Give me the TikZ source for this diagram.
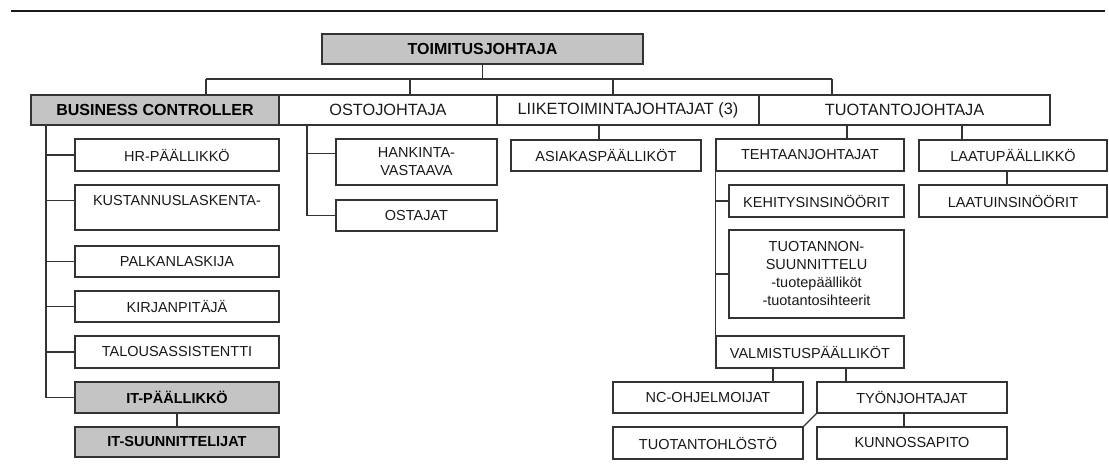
\documentclass[tikz,border=0pt]{standalone}
\usepackage{fontspec}
\setmainfont{Liberation Sans}
% \orgbox{name}{x1}{y1}{x2}{y2}{style}{text}: box given by its corners
\newcommand\orgbox[7]{%
  \node[box,#6,minimum width={#4pt-#2pt},minimum height={#5pt-#3pt}]
    (#1) at ({(#2+#4)/2},{(#3+#5)/2}) {#7};}
\begin{document}
\begin{tikzpicture}[x=1pt,y=-1pt,
  box/.style={draw=black!80,line width=1.1pt,inner sep=0pt,align=center,
    text=black!90,font=\fontsize{14.5}{18}\selectfont},
  head/.style={fill=black!23,text=black,font=\bfseries\fontsize{16}{19}\selectfont},
  itbox/.style={fill=black!23,text=black,font=\bfseries\fontsize{14.5}{18}\selectfont},
  big/.style={font=\fontsize{16.3}{19}\selectfont},
  wire/.style={draw=black!80,line width=1.1pt}]
\useasboundingbox (0,0) rectangle (1109,464);

% rule across the top
\draw[line width=1.3pt,black!90] (11,11) -- (1105,11);

% top levels
\orgbox{toim}{322}{34}{643}{64}{head}{TOIMITUSJOHTAJA}
\orgbox{bc}{31}{95}{279}{125}{head}{BUSINESS CONTROLLER}
\orgbox{osto}{279}{95}{497}{125}{big}{OSTOJOHTAJA}
\orgbox{liike}{497}{95}{759}{125}{big}{LIIKETOIMINTAJOHTAJAT (3)}
\orgbox{tuot}{759}{95}{1050}{125}{big}{TUOTANTOJOHTAJA}

% business controller
\orgbox{hr}{75}{139}{279}{171}{}{HR-PÄÄLLIKKÖ}
\orgbox{kust}{75}{185}{279}{230}{}{KUSTANNUSLASKENTA-\\[-3pt]\mbox{}}
\orgbox{palk}{75}{246}{279}{277}{}{PALKANLASKIJA}
\orgbox{kirj}{75}{291}{279}{322}{}{KIRJANPITÄJÄ}
\orgbox{talous}{75}{336}{279}{368}{}{TALOUSASSISTENTTI}
\orgbox{itp}{75}{382}{279}{413}{itbox}{IT-PÄÄLLIKKÖ}
\orgbox{its}{75}{427}{279}{457}{itbox}{IT-SUUNNITTELIJAT}

% purchasing
\orgbox{hank}{336}{139}{497}{185}{}{HANKINTA-\\VASTAAVA}
\orgbox{ostajat}{336}{200}{497}{231}{}{OSTAJAT}

% business units
\orgbox{asiak}{511}{140}{701}{171}{}{ASIAKASPÄÄLLIKÖT}

% production
\orgbox{teht}{716}{139}{904}{171}{}{TEHTAANJOHTAJAT}
\orgbox{laatup}{919}{140}{1107}{171}{}{LAATUPÄÄLLIKKÖ}
\orgbox{kehit}{729}{185}{904}{217}{}{KEHITYSINSINÖÖRIT}
\orgbox{laatui}{919}{185}{1107}{217}{}{LAATUINSINÖÖRIT}
\orgbox{tsuun}{729}{230}{904}{318}{}{TUOTANNON-\\SUUNNITTELU\\-tuotepäälliköt\\-tuotantosihteerit}
\orgbox{valm}{716}{336}{904}{368}{}{VALMISTUSPÄÄLLIKÖT}
\orgbox{nc}{613}{382}{803}{413}{}{NC-OHJELMOIJAT}
\orgbox{tyon}{817}{382}{1007}{413}{}{TYÖNJOHTAJAT}
\orgbox{thlo}{613}{427}{803}{459}{}{TUOTANTOHLÖSTÖ}
\orgbox{kunn}{817}{427}{1007}{459}{}{KUNNOSSAPITO}

% chief executive to the directors
\coordinate (d1) at (206,79);
\coordinate (d2) at (410,79);
\coordinate (d3) at (613,79);
\coordinate (d4) at (832,79);
\draw[wire] (toim.south) -- (toim.south |- d1);
\draw[wire] (d1) -- (d4);
\draw[wire] (d1) -- (d1 |- bc.north);
\draw[wire] (d2) -- (d2 |- osto.north);
\draw[wire] (d3) -- (d3 |- liike.north);
\draw[wire] (d4) -- (d4 |- tuot.north);

% business controller trunk
\coordinate (bct) at (46,0);
\coordinate (kustin) at ([yshift=-16pt]kust.north west);
\draw[wire] (bct |- bc.south) -- (bct |- itp.west);
\foreach \n in {hr,palk,kirj,talous,itp}
  \draw[wire] (bct |- \n.west) -- (\n.west);
\draw[wire] (bct |- kustin) -- (kustin);
\draw[wire] (itp.south) -- (its.north);

% purchasing trunk
\coordinate (ot) at (307,0);
\coordinate (hankin) at ([yshift=-15pt]hank.north west);
\draw[wire] (ot |- osto.south) -- (ot |- ostajat.west);
\draw[wire] (ot |- hankin) -- (hankin);
\draw[wire] (ot |- ostajat.west) -- (ostajat.west);

% business units
\coordinate (la) at (599,0);
\draw[wire] (la |- liike.south) -- (la |- asiak.north);

% production director
\coordinate (tt) at (847,0);
\coordinate (tl) at (962,0);
\coordinate (ll) at (1007,0);
\draw[wire] (tt |- tuot.south) -- (tt |- teht.north);
\draw[wire] (tl |- tuot.south) -- (tl |- laatup.north);
\draw[wire] (ll |- laatup.south) -- (ll |- laatui.north);

% factory managers trunk
\draw[wire] (teht.south west) -- (valm.north west);
\draw[wire] (teht.south west |- kehit.west) -- (kehit.west);
\draw[wire] (teht.south west |- tsuun.west) -- (tsuun.west);

% manufacturing
\coordinate (vn) at (773,0);
\coordinate (vt) at (846,0);
\coordinate (tk) at (904,0);
\draw[wire] (vn |- valm.south) -- (vn |- nc.north);
\draw[wire] (vt |- valm.south) -- (vt |- tyon.north);
\draw[wire] (tk |- tyon.south) -- (tk |- kunn.north);
\draw[wire] (tyon.south west) -- (thlo.north east);
\end{tikzpicture}
\end{document}
